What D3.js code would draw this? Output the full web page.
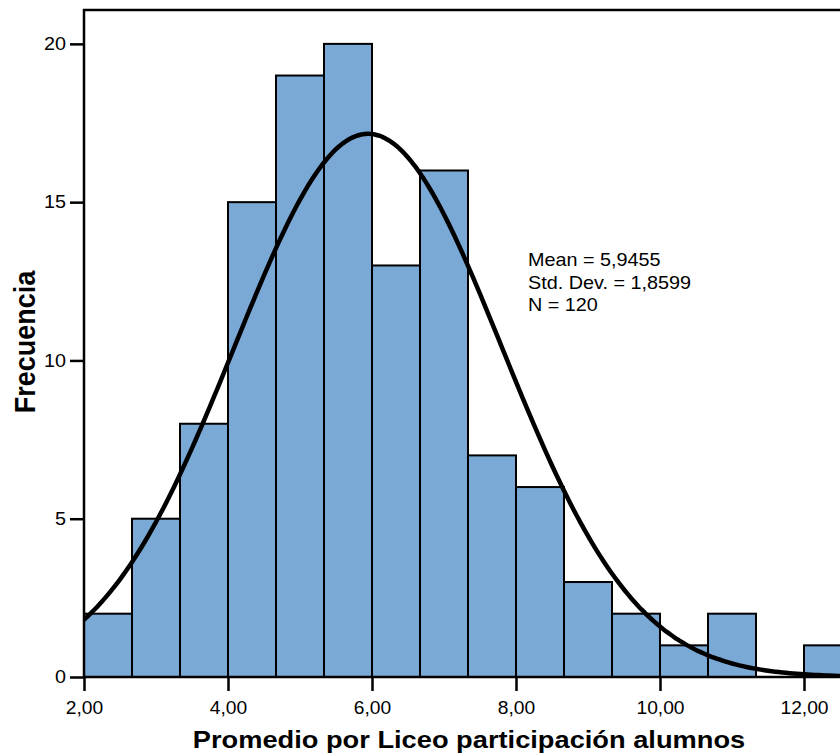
<!DOCTYPE html>
<html>
<head>
<meta charset="utf-8">
<script src="https://cdn.jsdelivr.net/npm/d3@7"></script>
<style>
  body { margin: 0; background: #fff; }
  text { font-family: Arial, "Liberation Sans", sans-serif; }
</style>
</head>
<body>
<div id="chart"></div>
<script>
// Histogram with normal curve

const width = 840,
    height = 754,
    margin = ({ top: 10, right: 0, bottom: 77, left: 84 }),
    stretch = 1.1; // text in the original is a bit wider than tall

// bin edges start at 2.00, width 2/3
const binStart = 2.0,
    binWidth = 2 / 3;
const counts = [2, 5, 8, 15, 19, 20, 13, 16, 7, 6, 3, 2, 1, 2, 0, 1];
const xTicks = [2, 4, 6, 8, 10, 12];
const yTicks = [0, 5, 10, 15, 20];
const stats = ({ mean: 5.9455, sd: 1.8599, n: 120 });
const statLines = ["Mean = 5,9455", "Std. Dev. = 1,8599", "N = 120"];

const bins = counts.map((c, i) => ({
    x0: binStart + i * binWidth,
    x1: binStart + (i + 1) * binWidth,
    count: c
}));

const svg = d3.select("#chart")
    .append("svg")
    .attr("width", width)
    .attr("height", height);

const x = d3.scaleLinear()
    .domain([2, 12.5])
    .range([margin.left, width - margin.right]);

const y = d3.scaleLinear()
    .domain([0, 21.07])
    .range([height - margin.bottom, margin.top]);

svg.append("clipPath")
    .attr("id", "clip")
    .append("rect")
    .attr("x", margin.left)
    .attr("y", margin.top)
    .attr("width", width - margin.right - margin.left)
    .attr("height", height - margin.bottom - margin.top);

const plot = svg.append("g").attr("clip-path", "url(#clip)");

plot.selectAll("rect.bar")
    .data(bins.filter(d => d.count > 0))
    .join("rect")
    .attr("class", "bar")
    .attr("x", d => x(d.x0))
    .attr("y", d => y(d.count))
    .attr("width", d => x(d.x1) - x(d.x0))
    .attr("height", d => y(0) - y(d.count))
    .attr("fill", "#7aa9d6")
    .attr("stroke", "#000")
    .attr("stroke-width", 2);

// fitted normal curve, scaled to counts
const pdf = v => Math.exp(-0.5 * ((v - stats.mean) / stats.sd) ** 2) / (stats.sd * Math.sqrt(2 * Math.PI));
const curvePts = d3.range(2, 12.55, 0.05).map(v => [v, stats.n * binWidth * pdf(v)]);

plot.append("path")
    .datum(curvePts)
    .attr("fill", "none")
    .attr("stroke", "#000")
    .attr("stroke-width", 4.5)
    .attr("d", d3.line().x(d => x(d[0])).y(d => y(d[1])).curve(d3.curveBasis));

// frame
svg.append("path")
    .attr("d", `M${width + 5},${margin.top}H${margin.left}V${y(0)}H${width + 5}`)
    .attr("fill", "none")
    .attr("stroke", "#000")
    .attr("stroke-width", 2.5);

// axes
const xAxis = svg.append("g")
    .attr("transform", `translate(0,${y(0)})`)
    .call(d3.axisBottom(x).tickValues(xTicks).tickSize(14).tickPadding(11)
        .tickFormat(d => d3.format(".2f")(d).replace(".", ",")));
xAxis.select(".domain").remove();
xAxis.selectAll(".tick line").attr("stroke-width", 2.5);
xAxis.selectAll("text")
    .attr("font-size", 17.5)
    .attr("fill", "#000")
    .attr("transform", `scale(${stretch},1)`);

const yAxis = svg.append("g")
    .attr("transform", `translate(${margin.left},0)`)
    .call(d3.axisLeft(y).tickValues(yTicks).tickSize(14).tickPadding(4));
yAxis.select(".domain").remove();
yAxis.selectAll(".tick line").attr("stroke-width", 2.5);
yAxis.selectAll("text")
    .attr("font-size", 18)
    .attr("fill", "#000")
    .attr("x", -18 / stretch)
    .attr("transform", `scale(${stretch},1)`);

// stats annotation
svg.append("g")
    .selectAll("text")
    .data(statLines)
    .join("text")
    .attr("transform", (d, i) => `translate(528,${266 + i * 22.7}) scale(${stretch},1)`)
    .attr("font-size", 18)
    .text(d => d);

// titles
svg.append("text")
    .attr("transform", `translate(469,748) scale(1.185,1)`)
    .attr("text-anchor", "middle")
    .attr("font-size", 23)
    .attr("font-weight", "bold")
    .text("Promedio por Liceo participación alumnos");

svg.append("text")
    .attr("transform", `translate(35,342) scale(1.12,1) rotate(-90)`)
    .attr("text-anchor", "middle")
    .attr("font-size", 27)
    .attr("font-weight", "bold")
    .text("Frecuencia");
</script>
</body>
</html>
